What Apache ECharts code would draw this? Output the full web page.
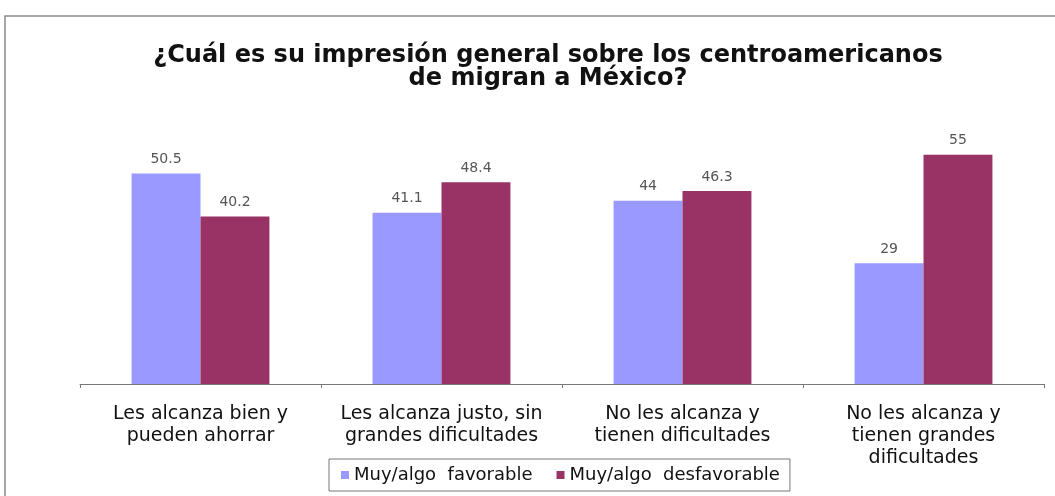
<!DOCTYPE html>
<html><head><meta charset="utf-8">
<script src="https://cdn.jsdelivr.net/npm/echarts@6/dist/echarts.min.js"></script>
<style>html,body{margin:0;padding:0;background:#fff}#c{width:1055px;height:496px}</style>
</head><body><div id="c"></div>
<script>
const titleText = "¿Cuál es su impresión general sobre los centroamericanos\nde migran a México?";
const categories = [
  "Les alcanza bien y\npueden ahorrar",
  "Les alcanza justo, sin\ngrandes dificultades",
  "No les alcanza y\ntienen dificultades",
  "No les alcanza y\ntienen grandes\ndificultades"
];
const seriesNames = ["Muy/algo  favorable", "Muy/algo  desfavorable"];
const favorable = [50.5, 41.1, 44, 29];
const desfavorable = [40.2, 48.4, 46.3, 55];

const FONT = 'DejaVu Sans, Verdana, sans-serif';
const chart = echarts.init(document.getElementById('c'));
const labelStyle = {show: true, position: 'top', distance: 7, color: '#555', fontSize: 14, fontFamily: FONT};
chart.setOption({
  animation: false,
  backgroundColor: '#fff',
  graphic: [{type: 'rect', shape: {x: 5, y: 16, width: 1100, height: 600}, style: {fill: 'none', stroke: '#8a8a8a', lineWidth: 1.5}}],
  title: {
    text: titleText, left: 543, top: 39, textAlign: 'center',
    textStyle: {fontFamily: FONT, fontWeight: 'bold', fontSize: 24, lineHeight: 23, color: '#111'}
  },
  legend: {
    data: seriesNames, left: 329, top: 459, orient: 'horizontal',
    borderColor: '#777', borderWidth: 1, padding: [7, 10, 7, 12],
    itemWidth: 8, itemHeight: 8, itemGap: 24, icon: 'rect',
    textStyle: {fontFamily: FONT, fontSize: 18, color: '#111'}
  },
  grid: {left: 80, right: 11, top: 134, bottom: 112},
  xAxis: {
    type: 'category', data: categories,
    axisLine: {lineStyle: {color: '#777', width: 1}},
    axisTick: {show: true, length: 4, lineStyle: {color: '#777'}},
    axisLabel: {fontFamily: FONT, fontSize: 19, lineHeight: 22, color: '#111', margin: 19, interval: 0}
  },
  yAxis: {type: 'value', min: 0, max: 60, show: false, splitLine: {show: false}},
  series: [
    {name: seriesNames[0], type: 'bar', data: favorable, barWidth: '28.6%', barGap: '0%', itemStyle: {color: '#9999FF'}, label: labelStyle},
    {name: seriesNames[1], type: 'bar', data: desfavorable, barWidth: '28.6%', barGap: '0%', itemStyle: {color: '#993366'}, label: labelStyle}
  ]
});
</script></body></html>
